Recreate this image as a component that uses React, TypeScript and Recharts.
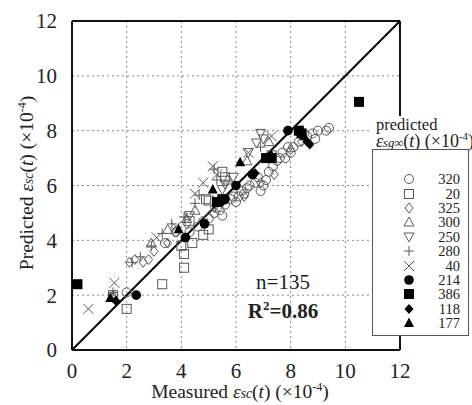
import React from 'react';
import { ScatterChart, Scatter, XAxis, YAxis, CartesianGrid, ReferenceLine } from 'recharts';

// measured vs predicted, grouped by predicted eps_sg-inf value
const s320 = [[2.0, 2.1], [3.4, 3.9], [3.8, 4.3], [4.3, 4.3], [4.6, 4.5], [4.8, 4.7], [5.0, 4.8], [5.2, 5.0], [5.3, 5.2], [5.4, 5.1], [5.5, 4.9], [5.6, 5.3], [5.8, 5.5], [5.9, 5.6], [6.0, 5.4], [6.1, 5.6], [6.2, 5.8], [6.3, 5.7], [6.4, 5.9], [6.5, 6.0], [6.7, 6.1], [6.8, 6.3], [6.9, 5.8], [7.0, 6.0], [7.1, 6.2], [7.2, 6.5], [7.35, 6.7], [7.5, 6.9], [7.6, 7.0], [7.7, 7.2], [7.8, 7.0], [7.9, 7.4], [8.0, 7.2], [8.1, 7.4], [8.3, 7.6], [8.6, 7.8], [8.8, 7.9], [8.9, 7.7], [9.0, 8.0], [9.3, 8.0], [9.4, 8.1]];
const s20 = [[1.5, 2.0], [2.0, 1.5], [3.3, 2.4], [4.1, 3.0], [4.1, 3.5], [4.0, 3.8], [4.4, 3.9], [4.8, 4.2], [5.0, 4.4], [4.3, 4.7], [4.9, 5.5], [5.0, 5.45], [5.5, 6.5], [5.6, 6.3], [7.3, 7.1]];
const s325 = [[1.5, 1.9], [2.1, 3.2], [2.3, 3.3], [2.6, 3.2], [2.8, 3.3], [3.0, 3.6], [3.5, 3.9], [3.8, 4.3], [4.2, 4.6], [5.2, 5.2], [6.3, 5.6], [6.9, 6.1], [7.4, 6.4], [8.0, 7.3], [8.4, 7.6]];
const s300 = [[1.5, 2.0], [2.9, 3.9], [3.5, 4.4], [4.2, 4.8], [4.5, 5.1], [5.7, 6.2], [6.4, 6.9], [7.2, 7.6]];
const s250 = [[4.3, 4.9], [5.5, 5.85], [5.6, 6.05], [5.9, 6.3], [6.45, 7.2], [6.75, 7.55], [6.9, 7.9], [7.0, 7.7]];
const s280 = [[1.5, 2.1], [2.2, 3.2], [2.5, 3.4], [2.9, 3.8], [3.3, 4.25], [3.65, 4.6], [4.1, 4.85], [4.5, 5.35], [4.65, 5.65], [5.2, 6.6], [5.3, 6.2], [6.9, 7.4]];
const s40 = [[0.6, 1.5], [1.55, 2.45], [3.1, 4.1], [3.8, 4.5], [4.5, 5.7], [4.8, 6.1], [5.15, 6.7], [5.3, 6.4], [6.45, 7.2], [7.3, 7.8]];
const s214 = [[2.35, 2.0], [4.15, 4.1], [4.85, 4.6], [5.6, 5.5], [6.0, 6.0], [6.6, 6.4], [7.9, 8.0]];
const s386 = [[0.2, 2.4], [5.3, 5.4], [5.5, 5.5], [7.1, 7.0], [7.3, 7.0], [8.3, 8.0], [8.4, 7.9], [10.5, 9.05]];
const s118 = [[1.6, 1.8], [5.5, 5.4], [6.7, 6.45], [8.6, 7.6], [8.7, 7.5]];
const s177 = [[1.4, 1.9], [3.9, 4.4], [5.15, 5.85], [6.15, 6.85], [7.3, 7.1], [8.5, 7.8]];

const ticks = [0, 2, 4, 6, 8, 10, 12];
const identity = [{ x: 0, y: 0 }, { x: 12, y: 12 }];

const GRAY = '#5a5a5a';
const FONT = '"Liberation Serif", "DejaVu Serif", serif';

type Kind = 'circle' | 'square' | 'diamond' | 'up' | 'down' | 'plus' | 'cross' | 'dot' | 'block' | 'gem' | 'tri';

function marker(kind: Kind, cx: number, cy: number) {
  const open = { fill: 'none', stroke: GRAY, strokeWidth: 1 };
  switch (kind) {
    case 'circle':
      return <circle cx={cx} cy={cy} r={4.5} {...open} />;
    case 'square':
      return <rect x={cx - 4.5} y={cy - 4.5} width={9} height={9} {...open} />;
    case 'diamond':
      return <polygon points={`${cx},${cy - 5} ${cx + 4},${cy} ${cx},${cy + 5} ${cx - 4},${cy}`} {...open} />;
    case 'up':
      return <polygon points={`${cx},${cy - 5} ${cx + 5},${cy + 4} ${cx - 5},${cy + 4}`} {...open} />;
    case 'down':
      return <polygon points={`${cx},${cy + 5} ${cx + 5},${cy - 4} ${cx - 5},${cy - 4}`} {...open} />;
    case 'plus':
      return <path d={`M${cx - 5},${cy}H${cx + 5}M${cx},${cy - 5}V${cy + 5}`} {...open} />;
    case 'cross':
      return <path d={`M${cx - 5},${cy - 5}L${cx + 5},${cy + 5}M${cx + 5},${cy - 5}L${cx - 5},${cy + 5}`} {...open} />;
    case 'dot':
      return <circle cx={cx} cy={cy} r={4.8} fill="#000" />;
    case 'block':
      return <rect x={cx - 5} y={cy - 5} width={10} height={10} fill="#000" />;
    case 'gem':
      return <polygon points={`${cx},${cy - 5} ${cx + 4.5},${cy} ${cx},${cy + 5} ${cx - 4.5},${cy}`} fill="#000" />;
    case 'tri':
      return <polygon points={`${cx},${cy - 5.5} ${cx + 5},${cy + 4} ${cx - 5},${cy + 4}`} fill="#000" />;
  }
}

const series: { label: string; kind: Kind; data: number[][] }[] = [
  { label: '320', kind: 'circle', data: s320 },
  { label: '20', kind: 'square', data: s20 },
  { label: '325', kind: 'diamond', data: s325 },
  { label: '300', kind: 'up', data: s300 },
  { label: '250', kind: 'down', data: s250 },
  { label: '280', kind: 'plus', data: s280 },
  { label: '40', kind: 'cross', data: s40 },
  { label: '214', kind: 'dot', data: s214 },
  { label: '386', kind: 'block', data: s386 },
  { label: '118', kind: 'gem', data: s118 },
  { label: '177', kind: 'tri', data: s177 },
];

const Eps = ({ sub }: { sub: string }) => (
  <span>
    <i>ε</i>
    <i style={{ fontSize: '0.7em' }}>{sub}</i>
  </span>
);

const Exp = ({ size }: { size: number }) => (
  <sup style={{ fontSize: size, lineHeight: 0 }}>-4</sup>
);

const tickStyle = { fill: '#222', fontSize: 21, fontFamily: FONT };
const axisLine = { stroke: '#111', strokeWidth: 2 };

export default function App() {
  return (
    <div style={{ position: 'relative', width: 472, height: 405, overflow: 'hidden', background: '#fff', fontFamily: FONT, color: '#222' }}>
      <style>{'body{margin:0}'}</style>
      <ScatterChart width={472} height={405} margin={{ top: 21, right: 72, bottom: 0, left: 0 }}>
        <CartesianGrid stroke="#888" strokeDasharray="2 3" />
        <XAxis dataKey="x" type="number" domain={[0, 12]} ticks={ticks} height={55} tick={tickStyle}
          axisLine={axisLine} tickLine={false} tickMargin={7} allowDataOverflow />
        <YAxis dataKey="y" type="number" domain={[0, 12]} ticks={ticks} width={72} tick={tickStyle}
          axisLine={axisLine} tickLine={false} tickMargin={9} allowDataOverflow />
        <ReferenceLine y={12} stroke="#111" strokeWidth={2} />
        <ReferenceLine x={12} stroke="#111" strokeWidth={2} />
        <ReferenceLine segment={identity} stroke="#000" strokeWidth={2} />
        {series.map((s) => (
          <Scatter key={s.label} name={s.label} data={s.data.map(([x, y]) => ({ x, y }))}
            isAnimationActive={false}
            shape={(p: any) => marker(s.kind, p.cx, p.cy)} />
        ))}
      </ScatterChart>

      <div style={{ position: 'absolute', left: 238, top: 268, fontSize: 21, lineHeight: '29px', textAlign: 'center', width: 90 }}>
        <div>n=135</div>
        <div style={{ fontWeight: 'bold' }}>R<sup style={{ fontSize: 13, lineHeight: 0 }}>2</sup>=0.86</div>
      </div>

      <div style={{ position: 'absolute', left: 0, top: 381, width: 480, textAlign: 'center', fontSize: 19.5, lineHeight: '22px' }}>
        Measured <Eps sub="sc" />(<i>t</i>) (×10<Exp size={12} />)
      </div>

      <div style={{ position: 'absolute', left: 28, top: 183, transform: 'translate(-50%,-50%) rotate(-90deg)', whiteSpace: 'nowrap', fontSize: 19.5, lineHeight: '22px' }}>
        Predicted <Eps sub="sc" />(<i>t</i>) (×10<Exp size={12} />)
      </div>

      <div style={{ position: 'absolute', left: 372, top: 116, width: 110, height: 33, background: '#fff', whiteSpace: 'nowrap', fontSize: 16.5, lineHeight: '17px', paddingLeft: 4 }}>
        <div>predicted</div>
        <div style={{ fontSize: 18 }}><Eps sub="sg∞" />(<i>t</i>) (×10<Exp size={11} />)</div>
      </div>

      <div style={{ position: 'absolute', left: 372, top: 149, width: 97, height: 187, background: '#fff', border: '1px solid #555', boxSizing: 'border-box', paddingTop: 22, lineHeight: '14px' }}>
        {series.map((s) => (
          <div key={s.label} style={{ display: 'flex', alignItems: 'center', height: 14.4, fontSize: 14.5 }}>
            <svg width={14} height={14} style={{ marginLeft: 29 }}>{marker(s.kind, 7, 7)}</svg>
            <span style={{ marginLeft: 'auto', marginRight: 8 }}>{s.label}</span>
          </div>
        ))}
      </div>
    </div>
  );
}
